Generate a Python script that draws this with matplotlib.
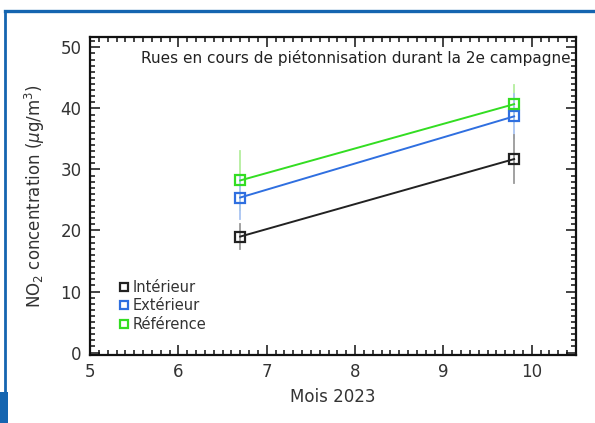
import matplotlib
matplotlib.use("Agg")
from matplotlib import pyplot as plt
from matplotlib.lines import Line2D
from matplotlib.patches import Rectangle
from matplotlib.ticker import MultipleLocator

# data
months = [6.7, 9.8]
interieur = [19.0, 31.7]
interieur_err = [2.0, 4.0]
exterieur = [25.4, 38.7]
exterieur_err = [3.5, 3.6]
reference = [28.2, 40.7]
reference_err = [4.9, 3.1]

series = [
    ("Intérieur", interieur, interieur_err, "#222222", "#9a9a9a"),
    ("Extérieur", exterieur, exterieur_err, "#2f6fe0", "#a9c4f2"),
    ("Référence", reference, reference_err, "#33dd22", "#b4ee9e"),
]

fig = plt.figure(figsize=(5.95, 4.23), dpi=100)
ax = fig.add_axes([0.1513, 0.1608, 0.8167, 0.7517])

# error bars first (thin, pale), reference at the back
for name, vals, errs, col, ecol in reversed(series):
    for x, v, e in zip(months, vals, errs):
        ax.plot([x, x], [v - e, v + e], color=ecol, lw=1.3, zorder=1)

handles = []
for name, vals, errs, col, ecol in series:
    ax.plot(months, vals, color=col, lw=1.4, zorder=2)
    h, = ax.plot(months, vals, ls="none", marker="s", ms=6.5, mfc="none",
                 mec=col, mew=1.6, zorder=3, label=name)
    handles.append(h)

ax.set_xlim(5, 10.5)
ax.set_ylim(-0.4, 51.7)
ax.xaxis.set_major_locator(MultipleLocator(1))
ax.xaxis.set_minor_locator(MultipleLocator(0.1))
ax.yaxis.set_major_locator(MultipleLocator(10))
ax.yaxis.set_minor_locator(MultipleLocator(1))
ax.tick_params(which="both", direction="in", top=True, right=True,
               color="#111111", width=1.1)
ax.tick_params(which="major", length=7, labelsize=12, colors="#111111",
               labelcolor="#333333", pad=6)
ax.tick_params(which="minor", length=3.5)
for s in ax.spines.values():
    s.set_linewidth(1.6)
    s.set_color("#111111")

ax.set_xlabel("Mois 2023", fontsize=12, color="#333333", labelpad=5)
ax.set_ylabel("NO$_2$ concentration ($\\mu$g/m$^3$)", fontsize=12,
              color="#333333", labelpad=10)

ax.text(0.99, 0.935, "Rues en cours de piétonnisation durant la 2e campagne",
        transform=ax.transAxes, ha="right", va="center", fontsize=11,
        color="#222222")

leg = ax.legend(handles=handles, loc="lower left", bbox_to_anchor=(0.04, 0.04),
                frameon=False, fontsize=10.5, handlelength=0.6,
                handletextpad=0.3, labelspacing=0.25, borderpad=0.2,
                markerscale=0.85)
for t in leg.get_texts():
    t.set_color("#333333")

# blue frame around the figure
blue = "#1565b0"
fig.add_artist(Line2D([5 / 595, 1.0], [1 - 11.5 / 423, 1 - 11.5 / 423],
                      transform=fig.transFigure, color=blue, lw=2.4))
fig.add_artist(Line2D([5 / 595, 5 / 595], [1 - 11.5 / 423, 31 / 423],
                      transform=fig.transFigure, color=blue, lw=2.0))
fig.add_artist(Rectangle((0, 0), 7.5 / 595, 31 / 423,
                         transform=fig.transFigure, color=blue, lw=0))

fig.savefig("out.png", dpi=100)
